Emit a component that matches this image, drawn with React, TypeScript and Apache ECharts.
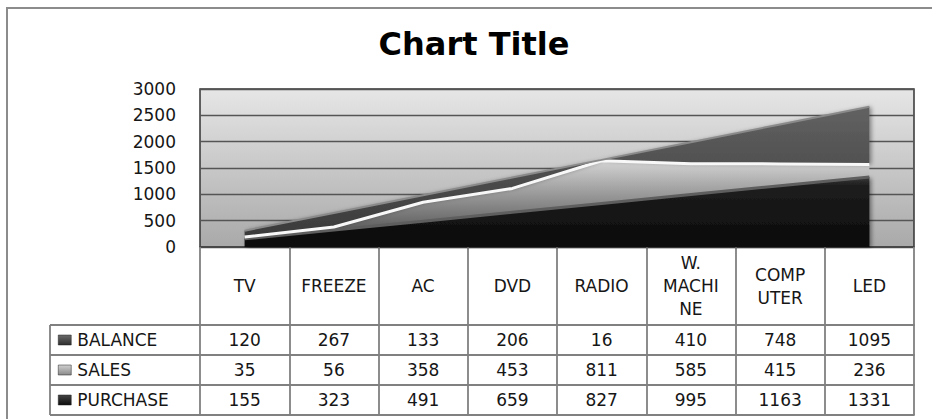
import React, { useEffect, useRef } from 'react';
import * as echarts from 'echarts';

// Product categories along the horizontal axis
const categories = ['TV', 'FREEZE', 'AC', 'DVD', 'RADIO', 'W. MACHINE', 'COMPUTER', 'LED'];
// Header cells of the data table (wrapped as in the sheet)
const headerLabels = ['TV', 'FREEZE', 'AC', 'DVD', 'RADIO', 'W.\nMACHI\nNE', 'COMP\nUTER', 'LED'];

// Series values
const balance = [120, 267, 133, 206, 16, 410, 748, 1095];
const sales = [35, 56, 358, 453, 811, 585, 415, 236];
const purchase = [155, 323, 491, 659, 827, 995, 1163, 1331];

// Value axis range
const yMin = 0;
const yMax = 3000;
const yStep = 500;

const FONT = 'DejaVu Sans';
const TEXT = '#161616';
const TABLE_LINE = '#808080';

const grad = (stops: [number, string][]) => ({
  type: 'linear' as const,
  x: 0,
  y: 0,
  x2: 0,
  y2: 1,
  colorStops: stops.map(([offset, color]) => ({ offset, color })),
});

export default function App() {
  const ref = useRef<HTMLDivElement>(null);

  useEffect(() => {
    if (!ref.current) return;
    const chart = echarts.init(ref.current, undefined, { renderer: 'svg' });

    const gridTop = 89;
    const gridBottomY = 247;
    const headerH = 78;
    const rowH = 30;

    const rows = [
      { name: 'BALANCE', values: balance, icon: grad([[0, '#6a6a6a'], [1, '#2e2e2e']]) },
      { name: 'SALES', values: sales, icon: grad([[0, '#d0d0d0'], [1, '#8a8a8a']]) },
      { name: 'PURCHASE', values: purchase, icon: grad([[0, '#444'], [1, '#0c0c0c']]) },
    ];

    const textStyle = { fontFamily: FONT, fontSize: 17, color: TEXT };

    const rowAxis = (values: number[] | null, offset: number) => ({
      type: 'category',
      data: categories,
      gridIndex: 0,
      position: 'bottom',
      offset,
      boundaryGap: true,
      axisLine: { show: true, lineStyle: { color: TABLE_LINE, width: 1.8 } },
      axisTick: {
        show: values !== null,
        length: rowH,
        interval: 0,
        lineStyle: { color: TABLE_LINE, width: 1.8 },
      },
      axisLabel: {
        show: values !== null,
        interval: 0,
        margin: rowH / 2,
        verticalAlign: 'middle',
        ...textStyle,
        formatter: (_v: string, i: number) => (values ? String(values[i]) : ''),
      },
      splitLine: { show: false },
    });

    const tableTop = gridBottomY + headerH;
    const left = 50;
    const gridLeft = 200;

    chart.setOption({
      animation: false,
      backgroundColor: '#ffffff',
      grid: {
        left: gridLeft,
        right: 18,
        top: gridTop,
        bottom: 419 - gridBottomY,
        show: true,
        borderColor: '#333',
        borderWidth: 1.5,
        backgroundColor: grad([[0, '#e6e6e6'], [1, '#a9a9a9']]),
      },
      legend: rows.map((r, k) => ({
        data: [{ name: r.name, icon: 'rect', itemStyle: { color: r.icon, borderColor: '#222', borderWidth: 0.5 } }],
        left: 58,
        top: tableTop + rowH * k + rowH / 2 - 10,
        padding: 0,
        itemWidth: 13,
        itemHeight: 10,
        itemGap: 0,
        selectedMode: false,
        textStyle: { ...textStyle, lineHeight: 20, padding: [0, 0, 0, 1] },
      })),
      xAxis: [
        {
          type: 'category',
          data: categories,
          gridIndex: 0,
          position: 'bottom',
          boundaryGap: true,
          axisLine: { show: true, lineStyle: { color: '#444', width: 1.5 } },
          axisTick: { show: true, length: headerH, interval: 0, lineStyle: { color: TABLE_LINE, width: 1.8 } },
          axisLabel: {
            interval: 0,
            margin: headerH / 2,
            verticalAlign: 'middle',
            align: 'center',
            lineHeight: 23,
            ...textStyle,
            formatter: (_v: string, i: number) => headerLabels[i],
          },
          splitLine: { show: false },
        },
        rowAxis(balance, headerH),
        rowAxis(sales, headerH + rowH),
        rowAxis(purchase, headerH + rowH * 2),
        rowAxis(null, headerH + rowH * 3),
      ],
      yAxis: {
        type: 'value',
        min: yMin,
        max: yMax,
        interval: yStep,
        axisLine: { show: false },
        axisTick: { show: false },
        axisLabel: { margin: 24, ...textStyle, formatter: (v: number) => String(v) },
        splitLine: { lineStyle: { color: '#555', width: 1.3 } },
      },
      series: [
        {
          name: 'PURCHASE',
          type: 'line',
          stack: 'total',
          data: purchase,
          symbol: 'none',
          lineStyle: { color: '#5e5e5e', width: 3 },
          itemStyle: { color: '#1a1a1a' },
          areaStyle: {
            opacity: 1,
            color: grad([[0, '#3c3c3c'], [0.12, '#1e1e1e'], [1, '#0a0a0a']]),
            shadowColor: 'rgba(0,0,0,0.45)',
            shadowBlur: 4,
            shadowOffsetX: 2,
            shadowOffsetY: 1,
          },
          z: 3,
        },
        {
          name: 'SALES',
          type: 'line',
          stack: 'total',
          data: sales,
          symbol: 'none',
          lineStyle: { color: '#f8f8f8', width: 3 },
          itemStyle: { color: '#aaaaaa' },
          areaStyle: {
            opacity: 1,
            color: grad([[0, '#d4d4d4'], [0.35, '#a4a4a4'], [1, '#4e4e4e']]),
          },
          z: 3,
        },
        {
          name: 'BALANCE',
          type: 'line',
          stack: 'total',
          data: balance,
          symbol: 'none',
          lineStyle: { color: '#8a8a8a', width: 2 },
          itemStyle: { color: '#4a4a4a' },
          areaStyle: {
            opacity: 1,
            color: grad([[0, '#626262'], [1, '#3a3a3a']]),
            shadowColor: 'rgba(0,0,0,0.4)',
            shadowBlur: 4,
            shadowOffsetX: 2,
            shadowOffsetY: 0,
          },
          z: 3,
        },
      ],
      graphic: [
        {
          type: 'polyline',
          shape: { points: [[7, 430], [7, 8], [940, 8]] },
          style: { stroke: '#8c8c8c', lineWidth: 2, fill: 'none' },
          silent: true,
        },
        {
          type: 'text',
          x: 474,
          y: 44,
          style: {
            text: 'Chart Title',
            font: `bold 32px "${FONT}"`,
            fill: '#000',
            align: 'center',
            verticalAlign: 'middle',
          },
          silent: true,
        },
        {
          type: 'line',
          shape: { x1: left, y1: tableTop, x2: left, y2: tableTop + rowH * 3 },
          style: { stroke: TABLE_LINE, lineWidth: 1.8 },
          silent: true,
        },
        ...[0, 1, 2, 3].map((k) => ({
          type: 'line',
          shape: { x1: left, y1: tableTop + rowH * k, x2: gridLeft, y2: tableTop + rowH * k },
          style: { stroke: TABLE_LINE, lineWidth: 1.8 },
          silent: true,
        })),
      ],
    });

    return () => chart.dispose();
  }, []);

  return (
    <div
      ref={ref}
      style={{ position: 'fixed', left: 0, top: 0, width: 932, height: 419, background: '#fff' }}
    />
  );
}
